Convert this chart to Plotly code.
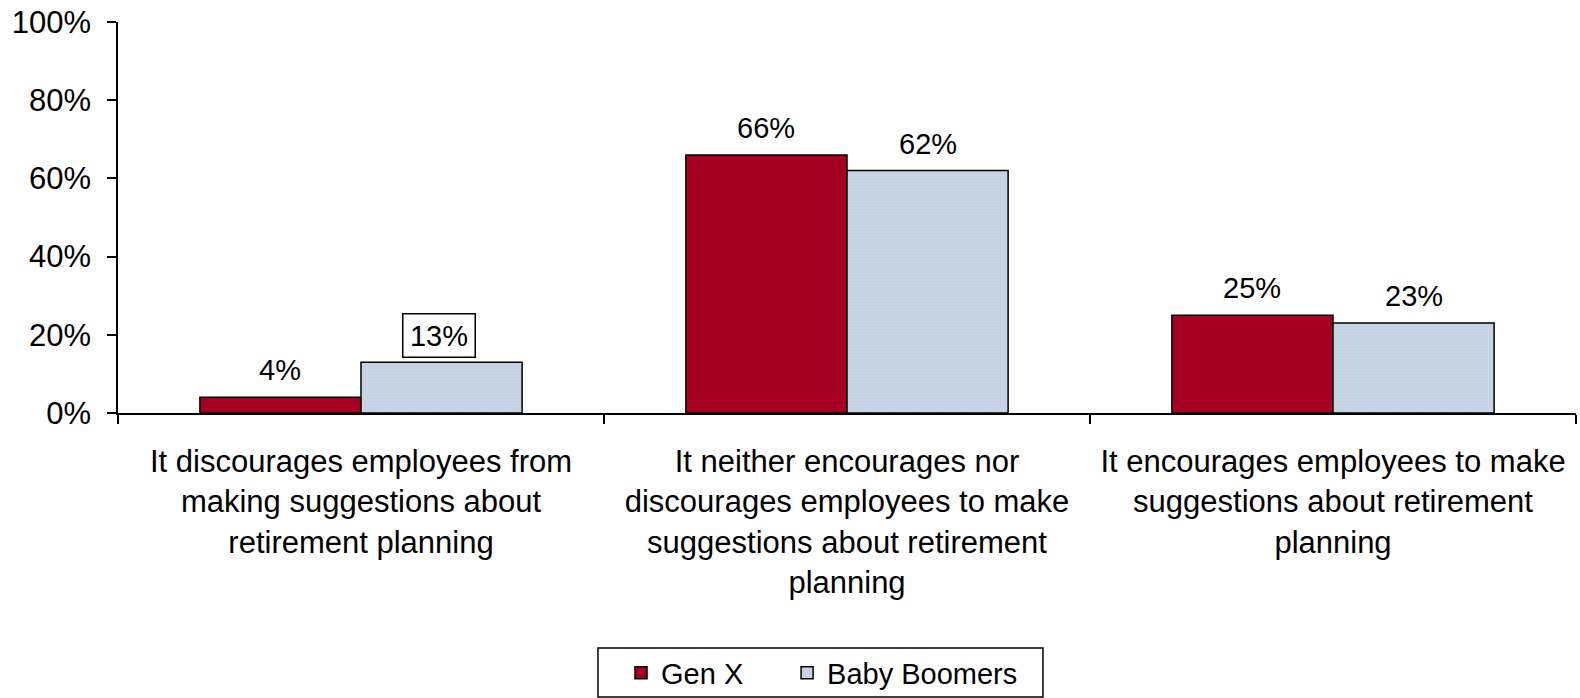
import plotly.graph_objects as go

# Survey answers (category axis) and the share of each generation
categories = [
    "It discourages employees from<br>making suggestions about<br>retirement planning",
    "It neither encourages nor<br>discourages employees to make<br>suggestions about retirement<br>planning",
    "It encourages employees to make<br>suggestions about retirement<br>planning",
]
gen_x = [4, 66, 25]
baby_boomers = [13, 62, 23]
y_ticks = [0, 20, 40, 60, 80, 100]

FONT = "Liberation Sans, Arial, sans-serif"
FS_AXIS = 31
FS = 29
RED = "#A50021"
BLUE = "#C9D5E4"

fig = go.Figure()
fig.add_trace(go.Bar(
    name="Gen X", x=categories, y=gen_x, legend="legend",
    marker=dict(color=RED, line=dict(color="black", width=1.5)),
))
fig.add_trace(go.Bar(
    name="Baby Boomers", x=categories, y=baby_boomers, legend="legend2",
    marker=dict(
        color=BLUE, line=dict(color="black", width=1.5),
        pattern=dict(shape=".", fgcolor="#B9C7D9", bgcolor=BLUE, size=3, solidity=0.35),
    ),
))

# Value labels above each bar; the small Boomers value sits in a framed box
half_bar = 80.7
for i, cat in enumerate(categories):
    fig.add_annotation(x=cat, y=gen_x[i], xref="x", yref="y", text=f"{gen_x[i]}%",
                       xshift=-half_bar, yshift=27, showarrow=False,
                       yanchor="middle", font=dict(family=FONT, size=FS, color="black"))
    if i == 0:
        fig.add_annotation(x=cat, y=baby_boomers[i], xref="x", yref="y", text=f"{baby_boomers[i]}%",
                           xshift=half_bar - 3, yshift=27, showarrow=False,
                           yanchor="middle", font=dict(family=FONT, size=FS, color="black"),
                           width=63, height=34, borderpad=4,
                           bordercolor="black", borderwidth=1.5, bgcolor="white")
    else:
        fig.add_annotation(x=cat, y=baby_boomers[i], xref="x", yref="y", text=f"{baby_boomers[i]}%",
                           xshift=half_bar, yshift=27, showarrow=False,
                           yanchor="middle", font=dict(family=FONT, size=FS, color="black"))

# Frame around the legend entries
fig.add_shape(type="rect", xref="paper", yref="paper",
              x0=0.3292, x1=0.6344, y0=-0.7263, y1=-0.601,
              line=dict(color="black", width=1.5), fillcolor="rgba(0,0,0,0)")

legend_style = dict(
    orientation="h", xanchor="left", y=-0.665, yanchor="middle",
    borderwidth=0, bgcolor="rgba(0,0,0,0)",
    font=dict(family=FONT, size=FS, color="black"),
)

fig.update_layout(
    width=1580, height=698,
    margin=dict(l=118, r=4, t=22, b=285, autoexpand=False),
    paper_bgcolor="white", plot_bgcolor="white",
    barmode="group", bargap=0.337, bargroupgap=0,
    font=dict(family=FONT, size=FS, color="black"),
    showlegend=True,
    legend=dict(x=0.3450, **legend_style),
    legend2=dict(x=0.4589, **legend_style),
    xaxis=dict(
        type="category", showline=True, linecolor="black", linewidth=1.5,
        ticks="outside", tickson="boundaries", ticklen=9, tickcolor="black", tickwidth=1.5,
        showgrid=False, ticklabelstandoff=20,
        tickfont=dict(family=FONT, size=FS_AXIS, color="black"),
    ),
    yaxis=dict(
        range=[0, 100], tickvals=y_ticks, ticktext=[f"{v}%" for v in y_ticks],
        showline=True, linecolor="black", linewidth=1.5,
        ticks="outside", ticklen=9, tickcolor="black", tickwidth=1.5,
        showgrid=False, zeroline=False, ticklabelstandoff=10,
        tickfont=dict(family=FONT, size=FS_AXIS, color="black"),
    ),
)

fig.write_html("out.html")
